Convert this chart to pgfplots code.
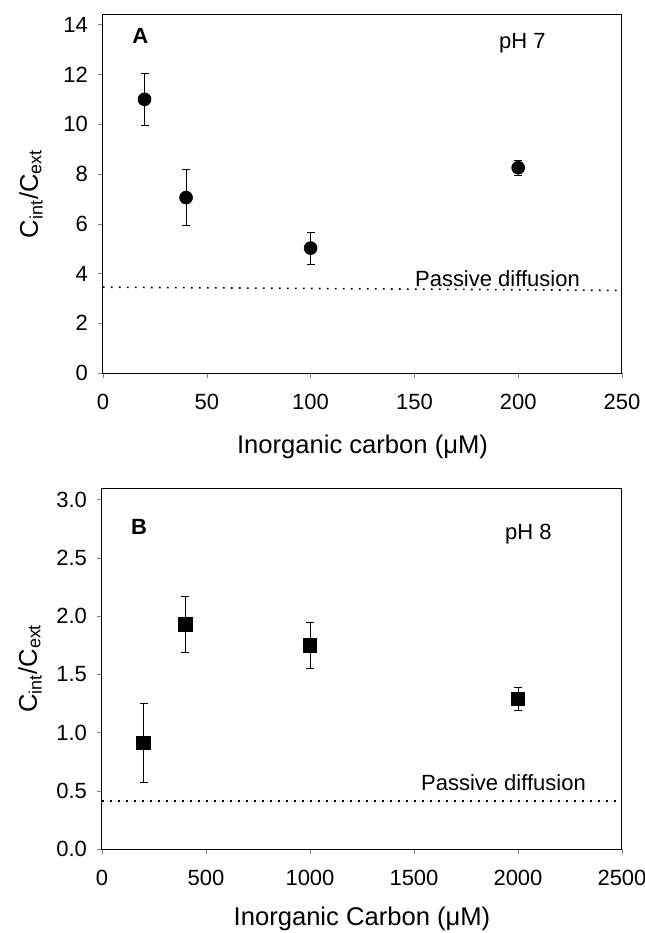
\documentclass[border=0pt]{standalone}
\usepackage{pgfplots}
\pgfplotsset{compat=1.18}
\usepackage{fontspec}
\setmainfont{Liberation Sans}
\begin{document}
\begin{tikzpicture}
\path[use as bounding box] (0,0) rectangle (322pt,-466.5pt);
\pgfplotsset{
  myax/.style={
    scale only axis,
    axis line style={line width=0.5pt},
    tick align=outside,
    major tick length=2.5pt,
    xtick pos=bottom, ytick pos=left,
    /pgf/number format/assume math mode=true,
    /pgf/number format/set thousands separator={},
    tick label style={font=\fontsize{11}{13}\selectfont},
    xticklabel style={yshift=-4.5pt},
    yticklabel style={xshift=-1.5pt},
    label style={font=\fontsize{12.8}{15}\selectfont},
    ylabel style={at={([xshift=-36pt]axis description cs:0,0.5)}, anchor=center, rotate=0},
    ylabel={C\textsubscript{int}/C\textsubscript{ext}},
    clip=false,
  },
  errb/.style={only marks, black,
    error bars/y dir=both, error bars/y explicit,
    error bars/error bar style={line width=0.4pt},
    error bars/error mark options={rotate=90, mark size=2pt, line width=0.4pt}},
}
\begin{axis}[myax,
  at={(51.5pt,-186.5pt)}, anchor=south west,
  width=259.5pt, height=179.15pt,
  xmin=0, xmax=250, ymin=0, ymax=14.4,
  xtick={0,50,...,250}, ytick={0,2,...,14},
  xlabel={Inorganic carbon (μM)},
  xlabel style={at={([yshift=-37pt]axis description cs:0.5,0)}, anchor=center},
]
\addplot[errb, mark=*, mark size=3.2pt] coordinates {
  (20,11.0) +- (0,1.03)
  (40,7.05) +- (0,1.12)
  (100,5.02) +- (0,0.65)
  (200,8.25) +- (0,0.3)
};
\addplot[black, line width=0.8pt, dash pattern=on 0.8pt off 3.2pt] coordinates {(0,3.45) (250,3.32)};
\node[font=\fontsize{11}{13}\selectfont\bfseries] at (axis cs:18,13.55) {A};
\node[font=\fontsize{11}{13}\selectfont] at (axis cs:202,13.25) {pH 7};
\node[font=\fontsize{11}{13}\selectfont] at (axis cs:190,3.8) {Passive diffusion};
\end{axis}
\begin{axis}[myax,
  at={(51pt,-424.5pt)}, anchor=south west,
  width=260pt, height=180.5pt,
  xmin=0, xmax=2500, ymin=0, ymax=3.1,
  xtick={0,500,...,2500}, ytick={0,0.5,...,3.0},
  yticklabel style={/pgf/number format/.cd, fixed, fixed zerofill, precision=1},
  xlabel={Inorganic Carbon (μM)},
  xlabel style={at={([yshift=-35pt]axis description cs:0.5,0)}, anchor=center},
]
\addplot[errb, mark=square*, mark size=3.4pt] coordinates {
  (200,0.91) +- (0,0.34)
  (400,1.93) +- (0,0.24)
  (1000,1.75) +- (0,0.2)
  (2000,1.29) +- (0,0.1)
};
\addplot[black, line width=0.8pt, dash pattern=on 0.8pt off 3.2pt] coordinates {(0,0.41) (2500,0.41)};
\node[font=\fontsize{11}{13}\selectfont\bfseries] at (axis cs:178,2.77) {B};
\node[font=\fontsize{11}{13}\selectfont] at (axis cs:2050,2.70) {pH 8};
\node[font=\fontsize{11}{13}\selectfont] at (axis cs:1930,0.57) {Passive diffusion};
\end{axis}
\end{tikzpicture}
\end{document}
